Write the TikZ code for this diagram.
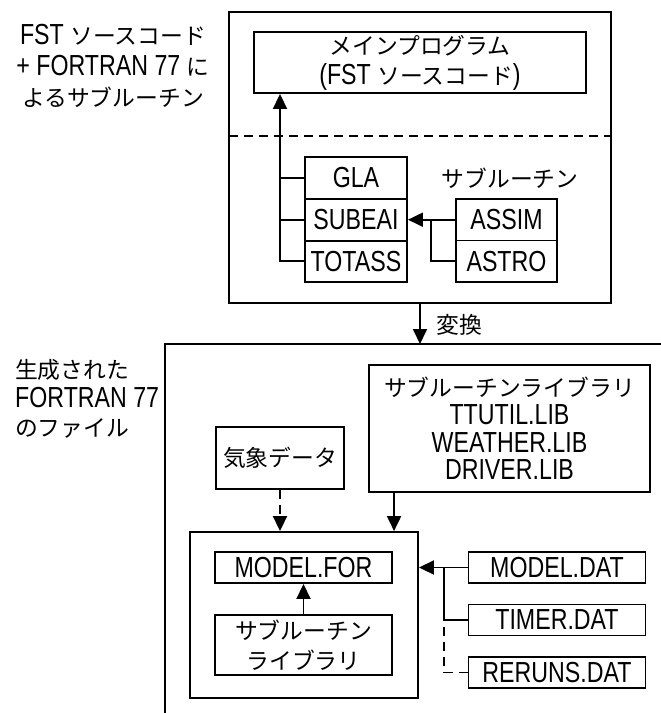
\documentclass[tikz,border=0pt]{standalone}
\usepackage{fontspec}
\setmainfont{Liberation Sans}[FakeStretch=0.8]
\newfontfamily\jpf{Noto Sans CJK JP}
\newcommand{\jp}[1]{{\fontsize{22.8}{30}\jpf #1}}
\usetikzlibrary{arrows.meta}
\tikzset{
  box/.style={draw, line width=1.9pt, inner sep=0pt, align=center},
  conn/.style={line width=1.9pt},
  arr/.style={-{Triangle[length=15pt,width=14pt]}},
  dsh/.style={dash pattern=on 9pt off 6pt},
  txt/.style={inner sep=0pt},
  every node/.style={font=\fontsize{29}{30}\selectfont}
}
\begin{document}
\begin{tikzpicture}[x=1pt,y=1pt]
\useasboundingbox (0,0) rectangle (661,-713);
% top block
\node[box, line width=2.1pt, minimum width=382pt, minimum height=291pt] (top) at (420,-157.5) {};
\node[box, minimum width=332pt, minimum height=61pt] (main) at (420,-62.5) {\jp{メインプログラム}\\(FST \jp{ソースコード})};
\coordinate (dl) at (229,-136);
\coordinate (dr) at (611,-136);
\draw[conn, dsh] (dl) -- (dr);
\node[box, minimum width=102pt, minimum height=41.7pt] (gla) at (356,-178) {GLA};
\node[box, minimum width=102pt, minimum height=41.7pt] (sub) at (356,-219.7) {SUBEAI};
\node[box, minimum width=102pt, minimum height=41.7pt] (tot) at (356,-261.3) {TOTASS};
\coordinate (bus) at (280,-261.3);
\draw[conn, arr] (tot.west) -- (bus) -- (bus |- main.south);
\draw[conn] (gla.west) -- (gla.west -| bus);
\draw[conn] (sub.west) -- (sub.west -| bus);
\node[txt] (sublabel) at (510,-178) {\jp{サブルーチン}};
\node[box, minimum width=101pt, minimum height=41.5pt] (assim) at (506.5,-219.7) {ASSIM};
\node[box, minimum width=101pt, minimum height=41.5pt] (astro) at (506.5,-261.2) {ASTRO};
\coordinate (br1) at (431,-219.7);
\draw[conn, arr] (assim.west) -- (sub.east);
\draw[conn] (astro.west) -| (br1);
% conversion
\coordinate (btr) at (661,-344);
\coordinate (btl) at (165,-344);
\coordinate (bbl) at (165,-713);
\draw[conn, line width=2.1pt] (btr) -- (btl) -- (bbl);
\draw[conn, arr] (top.south) -- (top.south |- btl);
\node[txt, anchor=west] (henkan) at (436,-325) {\jp{変換}};
% left texts
\node[txt, align=center, font=\fontsize{29}{31}\selectfont] (lt) at (113,-66) {FST \jp{ソースコード}\\+ FORTRAN 77 \jp{に}\\\jp{よるサブルーチン}};
\node[txt, align=left, anchor=west, font=\fontsize{29}{29}\selectfont] (lb) at (15,-399) {\jp{生成された}\\FORTRAN 77\\\jp{のファイル}};
% bottom block
\node[box, minimum width=281pt, minimum height=127pt, font=\fontsize{29}{27.8}\selectfont] (lib) at (509.5,-428.5) {\jp{サブルーチンライブラリ}\\TTUTIL.LIB\\WEATHER.LIB\\DRIVER.LIB};
\node[box, minimum width=128pt, minimum height=62pt] (kisho) at (280,-458) {\jp{気象データ}};
\node[box, minimum width=228pt, minimum height=166pt] (inner) at (304,-615) {};
\node[box, minimum width=177pt, minimum height=31pt] (mfor) at (303.5,-567.5) {MODEL.FOR};
\node[box, minimum width=177pt, minimum height=60pt] (slib) at (303.5,-645) {\jp{サブルーチン}\\\jp{ライブラリ}};
\draw[conn, arr] (slib.north) -- (mfor.south);
\draw[conn, dsh, arr] (kisho.south) -- (kisho.south |- inner.north);
\coordinate (libout) at ([xshift=26pt]lib.south west);
\draw[conn, arr] (libout) -- (libout |- inner.north);
\node[box, minimum width=177pt, minimum height=31pt] (mdat) at (557,-567.5) {MODEL.DAT};
\node[box, minimum width=177pt, minimum height=31pt] (tdat) at (557,-620) {TIMER.DAT};
\node[box, minimum width=177pt, minimum height=31pt] (rdat) at (557,-672.5) {RERUNS.DAT};
\coordinate (br2) at (444,-567.5);
\coordinate (br3) at (444,-620);
\draw[conn, arr] (mdat.west) -- (mdat.west -| inner.east);
\draw[conn] (tdat.west) -| (br2);
\draw[conn, dsh] (rdat.west) -| (br3);
\end{tikzpicture}
\end{document}
